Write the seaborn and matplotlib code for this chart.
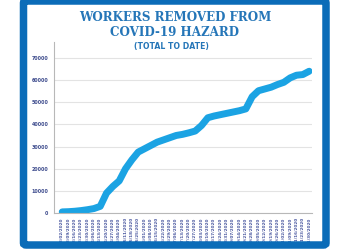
import matplotlib
matplotlib.use("Agg")
import matplotlib.pyplot as plt
import seaborn as sns
import pandas as pd
import numpy as np
from matplotlib.patches import FancyBboxPatch

dates = pd.date_range("2020-03-02", periods=40, freq="7D").strftime("%m/%d/%Y").tolist()
workers = [500, 600, 800, 1100, 1500, 2000, 3000, 9000, 12000, 14500,
           20000, 24000, 27500, 29000, 30500, 32000, 33000, 34000, 35000, 35500,
           36200, 37000, 39500, 43000, 43800, 44400, 45000, 45600, 46200, 47000,
           52500, 55200, 56000, 56800, 58000, 59000, 61000, 62200, 62500, 64000]
yticks = [0, 10000, 20000, 30000, 40000, 50000, 60000, 70000]

title_lines = ["WORKERS REMOVED FROM", "COVID-19 HAZARD"]
subtitle = "(TOTAL TO DATE)"

df = pd.DataFrame({"idx": range(len(dates)), "date": dates, "workers": workers})

sns.set_theme(style="white")
fig = plt.figure(figsize=(3.5, 2.5), dpi=100)
fig.patch.set_facecolor("white")
W, H = 350, 250
ax = fig.add_axes([54 / W, 1 - 213 / H, (312 - 54) / W, (213 - 42) / H])

sns.lineplot(data=df, x="idx", y="workers", ax=ax, color="#1ba3e3",
             linewidth=5.0, solid_capstyle="round", solid_joinstyle="round")

ax.set_xlim(-1.3, 39.45)
ax.set_ylim(0, 77200)
ax.set_yticks(yticks)
ax.set_yticklabels([str(v) for v in yticks])
ax.set_xticks(range(len(dates)))
ax.set_xticklabels(dates, rotation=90)
ax.tick_params(axis="y", labelsize=3.4, labelcolor="#3c4a8c", length=0, pad=4)
ax.tick_params(axis="x", labelsize=3.0, labelcolor="#4a58a0", length=0, pad=3)
for lab in ax.get_xticklabels() + ax.get_yticklabels():
    lab.set_fontweight("bold")
ax.set_xlabel("")
ax.set_ylabel("")
ax.yaxis.grid(True, color="#e3e3e3", linewidth=0.8)
ax.set_axisbelow(True)
for s in ["top", "right"]:
    ax.spines[s].set_visible(False)
ax.spines["left"].set_color("#b8b8b8")
ax.spines["left"].set_linewidth(0.8)
ax.spines["bottom"].set_color("#b8b8b8")
ax.spines["bottom"].set_linewidth(0.8)

# blue frame
frame = FancyBboxPatch((23.5 / W, 1 - 245 / H), (326 - 23.5) / W, (245 - 1) / H,
                       boxstyle="round,pad=0,rounding_size=0.008",
                       transform=fig.transFigure, fill=False,
                       edgecolor="#0b6cb8", linewidth=5.4, zorder=10)
fig.patches.append(frame)

fig.text(175 / W, 1 - 17 / H, title_lines[0], ha="center", va="center",
         fontsize=8.6, fontweight="bold", family="DejaVu Serif", color="#2576b8")
fig.text(175 / W, 1 - 33 / H, title_lines[1], ha="center", va="center",
         fontsize=8.6, fontweight="bold", family="DejaVu Serif", color="#2576b8")
fig.text(171 / W, 1 - 46.5 / H, subtitle, ha="center", va="center",
         fontsize=5.6, fontweight="bold", family=["Liberation Sans Narrow", "DejaVu Sans"],
         color="#2576b8")

fig.savefig("out.png", dpi=100, facecolor="white")
